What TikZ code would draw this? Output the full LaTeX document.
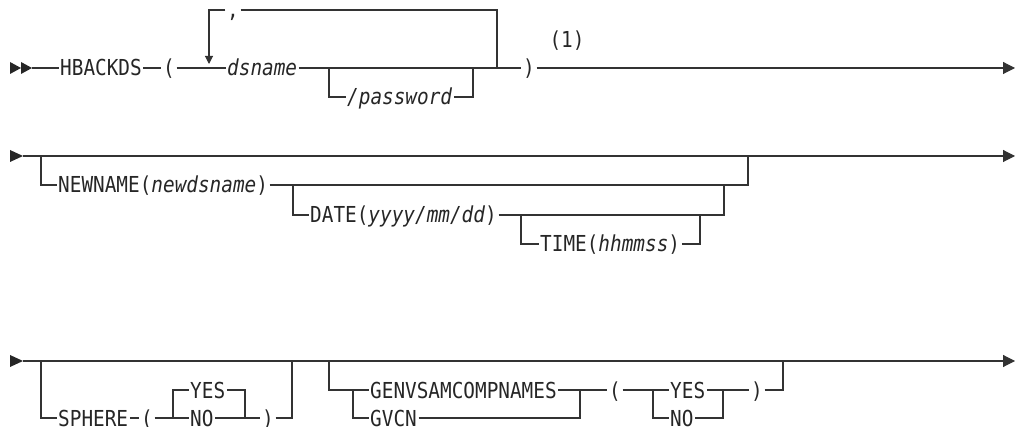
\documentclass[tikz,border=0pt]{standalone}
\usepackage{fontspec}
\newfontfamily\rr{DejaVu Sans Mono}[FakeStretch=0.88]
\usetikzlibrary{arrows.meta}
\begin{document}
\begin{tikzpicture}[x=1pt,y=-1pt,
  line/.style={line width=1.1pt, draw=black!80},
  txt/.style={font=\rr\fontsize{22}{24}\selectfont, text=black!85, inner xsep=1.5pt, inner ysep=0pt, text height=16pt, text depth=0pt},
  finarrow/.style={-{Triangle[length=12pt,width=12pt]}},
  tipfill/.style={fill=black!85}]
\useasboundingbox (0,0) rectangle (1017,427);

% ---------- Row 1 ----------
\fill[tipfill] (10,62) -- (21,68) -- (10,74) -- cycle;
\fill[tipfill] (21,62) -- (32,68) -- (21,74) -- cycle;
\coordinate (s1) at (32,68);
\node[txt,anchor=west] (hb) at (58.5,68) {HBACKDS};
\node[txt] (lp1) at (169,68) {(};
\coordinate (lpTL) at (209,10);
\coordinate (lpArr) at (209,64);
\node[txt] (comma) at (233,10) {,};
\coordinate (lpTR) at (497,10);
\coordinate (lpR) at (497,68);
\node[txt,anchor=west] (ds) at (225.5,68) {\itshape dsname};
\coordinate (pwL) at (329,68);
\node[txt,anchor=west] (pw) at (345.5,97) {\itshape /password};
\coordinate (pwR) at (473,68);
\node[txt] (rp1) at (529,68) {)};
\node[txt] (n1) at (567,40) {(1)};
\coordinate (e1) at (1015,68);

\draw[line] (s1) -- (hb.west);
\draw[line] (hb.east) -- (lp1.west);
\draw[line] (lp1.east) -- (ds.west);
\draw[line] (ds.east) -- (rp1.west);
\draw[line,-{Triangle[length=8pt,width=8pt]}] (comma.west) -- (lpTL) -- (lpArr);
\draw[line] (comma.east) -- (lpTR) -- (lpR);
\draw[line] (pwL) |- (pw.west);
\draw[line] (pw.east) -| (pwR);
\draw[line,finarrow] (rp1.east) -- (e1);

% ---------- Row 2 ----------
\fill[tipfill] (10,150) -- (23,156) -- (10,162) -- cycle;
\coordinate (s2) at (23,156);
\coordinate (e2) at (1015,156);
\draw[line,finarrow] (s2) -- (e2);
\coordinate (o1L) at (41,156);
\coordinate (o1R) at (748,156);
\node[txt,anchor=west] (nn) at (56.5,185) {NEWNAME(\textit{newdsname})};
\coordinate (o2L) at (293,185);
\coordinate (o2R) at (724,185);
\node[txt,anchor=west] (dt) at (308.5,215) {DATE(\textit{yyyy/mm/dd})};
\coordinate (o3L) at (521,215);
\coordinate (o3R) at (700,215);
\node[txt,anchor=west] (tm) at (538.5,244) {TIME(\textit{hhmmss})};
\draw[line] (o1L) |- (nn.west);
\draw[line] (nn.east) -| (o1R);
\draw[line] (o2L) |- (dt.west);
\draw[line] (dt.east) -| (o2R);
\draw[line] (o3L) |- (tm.west);
\draw[line] (tm.east) -| (o3R);

% ---------- Row 3 ----------
\fill[tipfill] (10,355) -- (23,361) -- (10,367) -- cycle;
\coordinate (s3) at (23,361);
\coordinate (e3) at (1015,361);
\draw[line,finarrow] (s3) -- (e3);
% SPHERE
\coordinate (spL) at (41,361);
\coordinate (spR) at (292,361);
\node[txt,anchor=west] (sp) at (56.5,418) {SPHERE};
\node[txt] (splp) at (147,418) {(};
\coordinate (spF) at (173,418);
\node[txt,anchor=west] (spy) at (188.5,390) {YES};
\node[txt,anchor=west] (spn) at (188.5,418) {NO};
\coordinate (spJ) at (245,418);
\node[txt] (sprp) at (268,418) {)};
\draw[line] (spL) |- (sp.west);
\draw[line] (sp.east) -- (splp.west);
\draw[line] (splp.east) -- (spn.west);
\draw[line] (spF) |- (spy.west);
\draw[line] (spy.east) -| (spJ);
\draw[line] (spn.east) -- (sprp.west);
\draw[line] (sprp.east) -| (spR);
% GENVSAMCOMPNAMES
\coordinate (gvL) at (329,361);
\coordinate (gvR) at (783,361);
\coordinate (gvF) at (353,390);
\node[txt,anchor=west] (gen) at (368.5,390) {GENVSAMCOMPNAMES};
\node[txt,anchor=west] (gvcn) at (368.5,418) {GVCN};
\coordinate (gvJ) at (580,390);
\node[txt] (gvlp) at (615,390) {(};
\coordinate (gvF2) at (653,390);
\node[txt,anchor=west] (gy) at (668.5,390) {YES};
\node[txt,anchor=west] (gn) at (668.5,418) {NO};
\coordinate (gvJ2) at (723,390);
\node[txt] (gvrp) at (757,390) {)};
\draw[line] (gvL) |- (gen.west);
\draw[line] (gvF) |- (gvcn.west);
\draw[line] (gen.east) -- (gvlp.west);
\draw[line] (gvcn.east) -| (gvJ);
\draw[line] (gvlp.east) -- (gy.west);
\draw[line] (gvF2) |- (gn.west);
\draw[line] (gn.east) -| (gvJ2);
\draw[line] (gy.east) -- (gvrp.west);
\draw[line] (gvrp.east) -| (gvR);
\end{tikzpicture}
\end{document}
